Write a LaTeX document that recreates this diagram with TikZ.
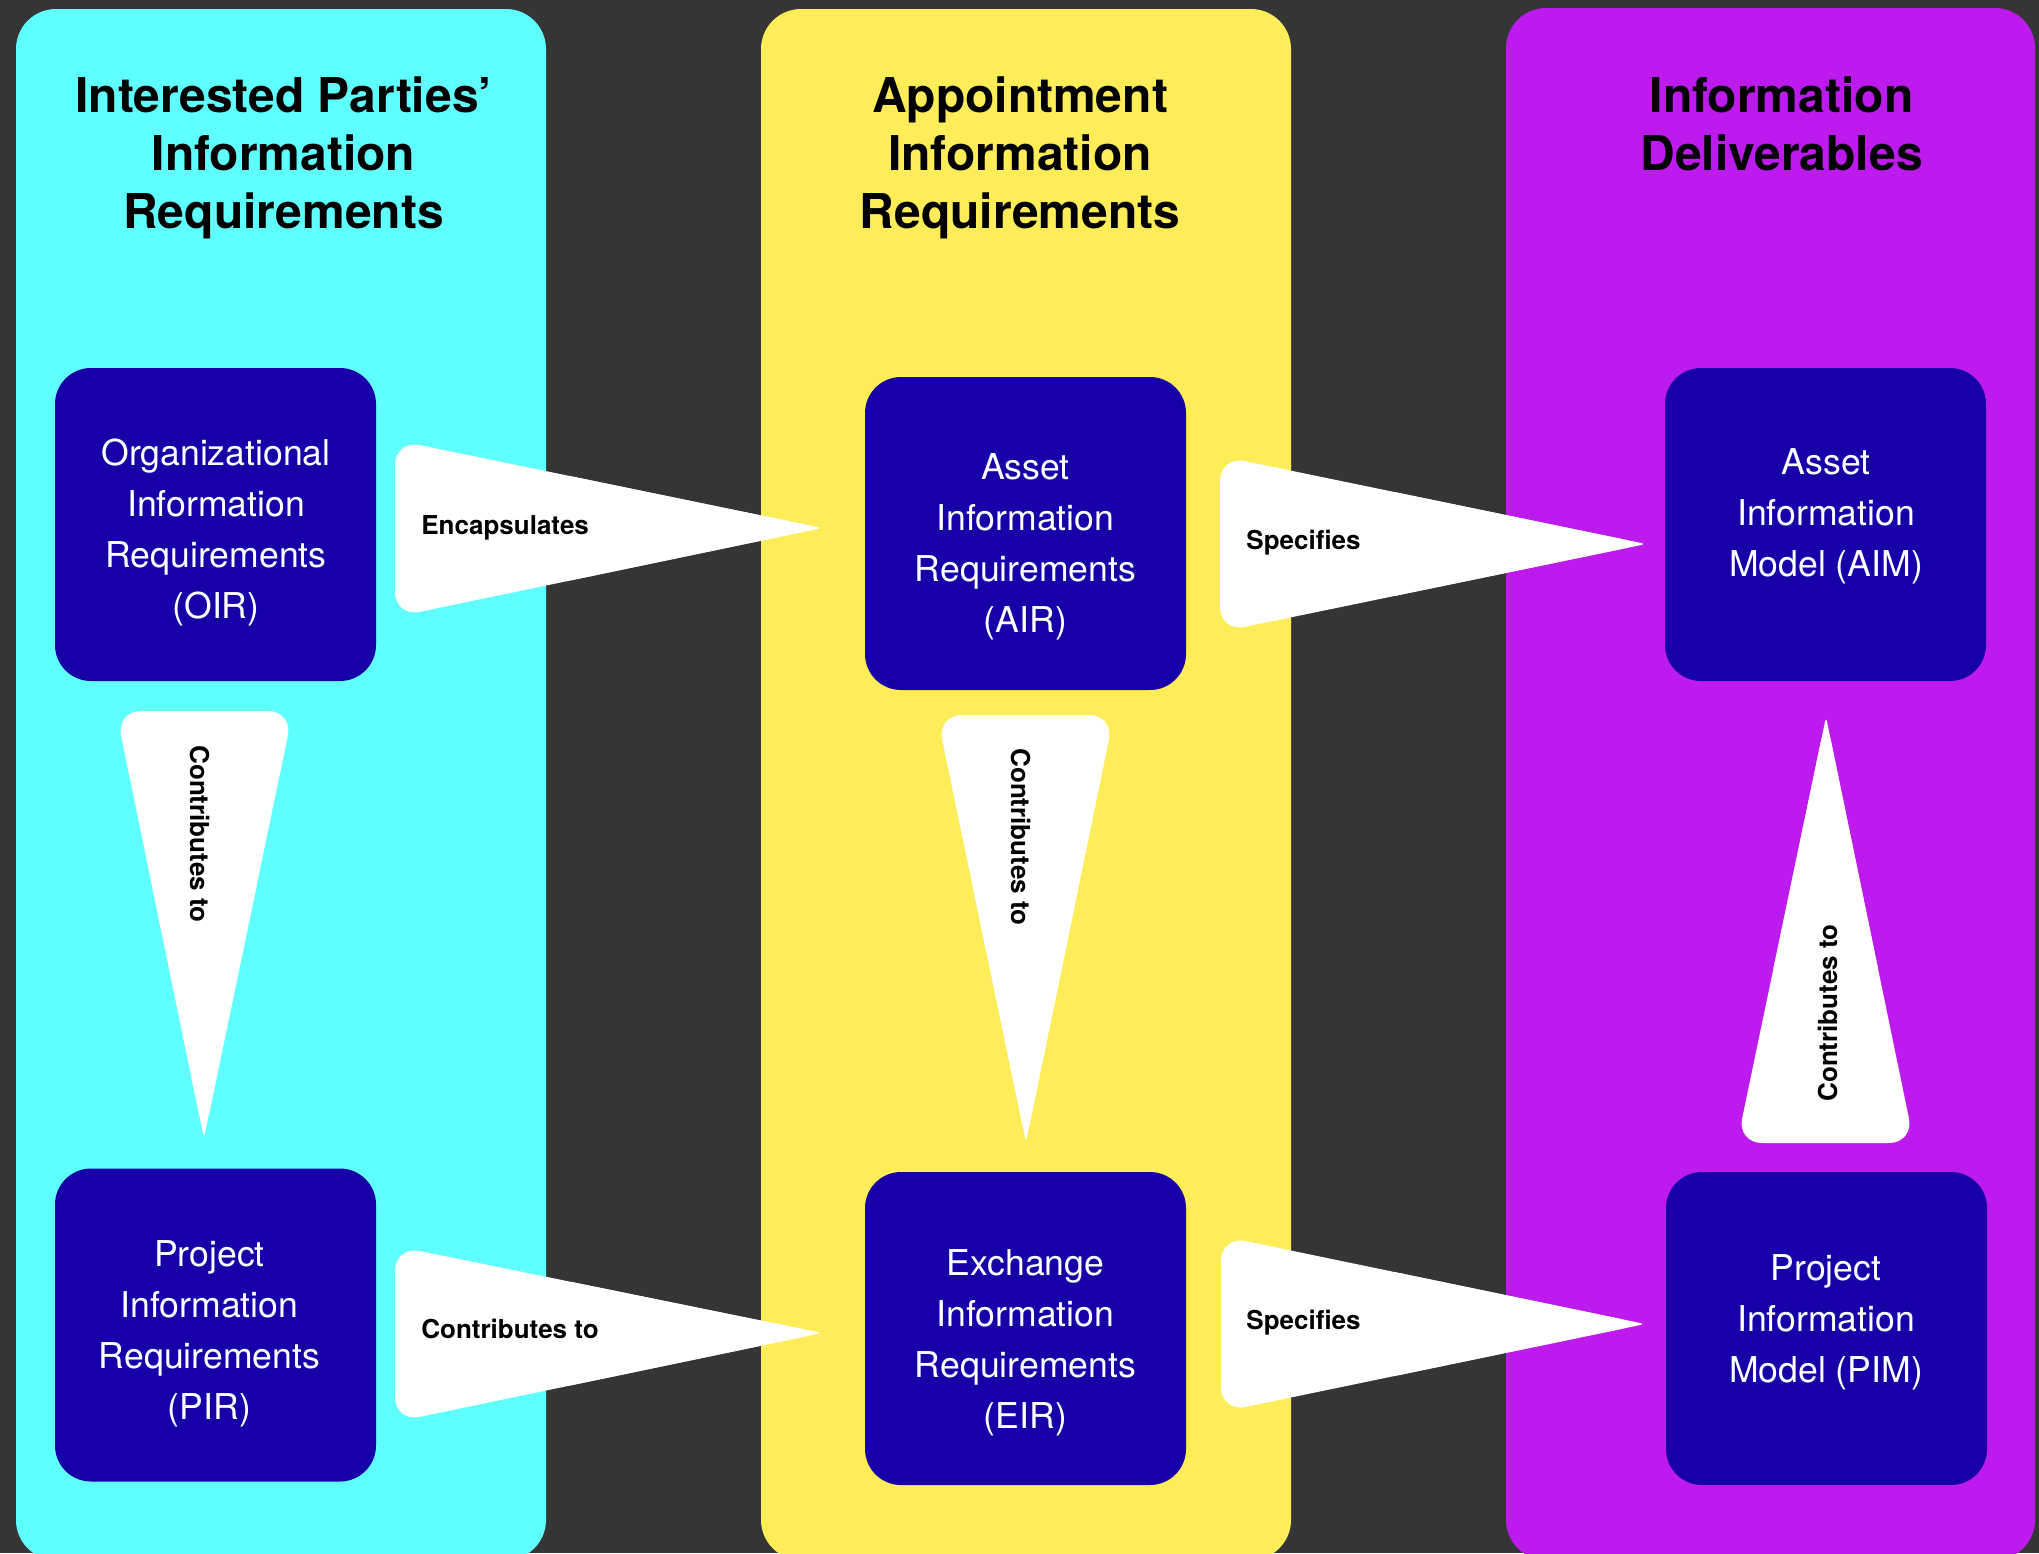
\documentclass[tikz,border=0pt]{standalone}
\usepackage{fontspec}
\setmainfont{TeX Gyre Heros}
\usetikzlibrary{calc}
\definecolor{bgdark}{HTML}{353535}
\definecolor{pcyan}{HTML}{60FFFF}
\definecolor{pyellow}{HTML}{FEED58}
\definecolor{ppurple}{HTML}{BD1BEE}
\definecolor{boxblue}{HTML}{1700A8}
\tikzset{
  panel/.style={rounded corners=20pt},
  bluebox/.style={fill=boxblue, rounded corners=18pt, minimum width=160.5pt, minimum height=156.5pt, inner sep=0pt},
  boxtext/.style={text=white, align=center, inner sep=0pt, font=\fontsize{17.8}{25.5}\selectfont},
  title/.style={align=center, inner sep=0pt, font=\fontsize{24}{29}\selectfont\bfseries},
  lbl/.style={inner sep=0pt, font=\fontsize{13}{15}\selectfont\bfseries},
  wedgebody/.style={fill=white, rounded corners=12.5pt},
  wedgetip/.style={fill=white, rounded corners=2.5pt}
}
% #1,#2 base corners, #3 tip
\newcommand{\whitewedge}[3]{%
  \fill[wedgebody] (#1) -- (#3) -- (#2) -- cycle;
  \fill[wedgetip] (#3) -- ($(#3)!0.6!(#1)$) -- ($(#3)!0.6!(#2)$) -- cycle;}
\begin{document}
\begin{tikzpicture}[x=0.5pt,y=-0.5pt]
\useasboundingbox (0,0) rectangle (2039,1553);
\fill[bgdark] (0,0) rectangle (2039,1553);
\begin{scope}
\clip (0,0) rectangle (2039,1553);
\fill[pcyan,panel] (16,9) rectangle (546,1560);
\fill[pyellow,panel] (761,9) rectangle (1291,1560);
\fill[ppurple,panel] (1506,8) rectangle (2035,1560);
\end{scope}

% titles
\node[title] (t1) at (283.5,157.5) {Interested Parties’\\Information\\Requirements};
\node[title] (t2) at (1020,157.5) {Appointment\\Information\\Requirements};
\node[title] (t3) at (1781.5,123.5) {Information\\Deliverables};

% boxes
\node[bluebox] (oir) at (215.5,524.5) {};
\node[bluebox] (pir) at (215.5,1325) {};
\node[bluebox] (air) at (1025.5,533.5) {};
\node[bluebox] (eir) at (1025.5,1328.5) {};
\node[bluebox] (aim) at (1825.5,524.5) {};
\node[bluebox] (pim) at (1826.5,1328.5) {};

\node[boxtext] (oirt) at (216,532.5) {Organizational\\Information\\Requirements\\(OIR)};
\node[boxtext] (pirt) at (209.5,1333.5) {Project\\Information\\Requirements\\(PIR)};
\node[boxtext] (airt) at (1025.5,547) {Asset\\Information\\Requirements\\(AIR)};
\node[boxtext] (eirt) at (1025.5,1342.5) {Exchange\\Information\\Requirements\\(EIR)};
\node[boxtext] (aimt) at (1826,516) {Asset\\Information\\Model (AIM)};
\node[boxtext] (pimt) at (1826,1322.5) {Project\\Information\\Model (PIM)};

% horizontal wedges
\coordinate (a1) at (395,440); \coordinate (a2) at (395,617); \coordinate (a3) at (822,528);
\whitewedge{a1}{a2}{a3}
\node[lbl, anchor=base west] (l1) at (421,534) {Encapsulates};

\coordinate (b1) at (1220,456); \coordinate (b2) at (1220,632); \coordinate (b3) at (1646,544);
\whitewedge{b1}{b2}{b3}
\node[lbl, anchor=base west] (l2) at (1246,549.5) {Specifies};

\coordinate (c1) at (395,1246); \coordinate (c2) at (395,1422); \coordinate (c3) at (822,1333);
\whitewedge{c1}{c2}{c3}
\node[lbl, anchor=base west] (l3) at (421,1338.5) {Contributes to};

\coordinate (d1) at (1221,1236); \coordinate (d2) at (1221,1412); \coordinate (d3) at (1645,1324);
\whitewedge{d1}{d2}{d3}
\node[lbl, anchor=base west] (l4) at (1246,1329.5) {Specifies};

% vertical wedges
\coordinate (e1) at (116,711); \coordinate (e2) at (293,711); \coordinate (e3) at (204,1138);
\whitewedge{e1}{e2}{e3}
\node[lbl, rotate=-90] (l5) at (200,834) {Contributes to};

\coordinate (f1) at (937,715); \coordinate (f2) at (1114,715); \coordinate (f3) at (1026,1142);
\whitewedge{f1}{f2}{f3}
\node[lbl, rotate=-90] (l6) at (1021,837) {Contributes to};

\coordinate (g1) at (1737,1143); \coordinate (g2) at (1914,1143); \coordinate (g3) at (1826,717);
\whitewedge{g1}{g2}{g3}
\node[lbl, rotate=90] (l7) at (1828,1013) {Contributes to};
\end{tikzpicture}
\end{document}
